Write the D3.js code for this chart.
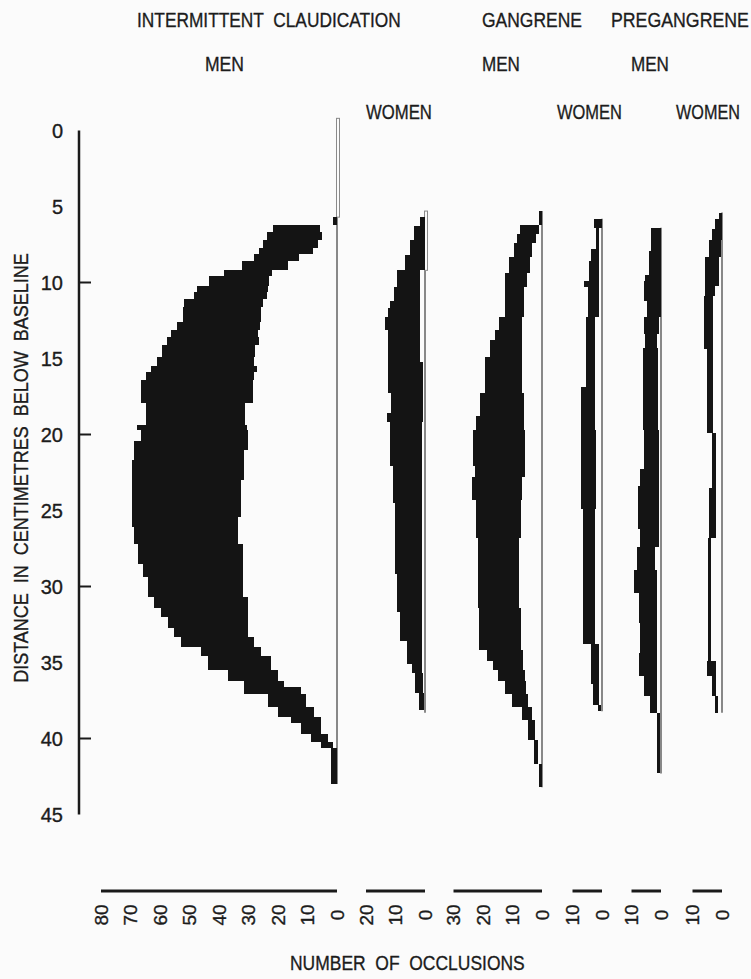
<!DOCTYPE html>
<html>
<head>
<meta charset="utf-8" />
<title>occlusions by distance below baseline</title>
<style>
* {
    padding: 0;
    margin: 0;
}
body {
    background: #fbfbfb;
}
#chart {
    width: 751px;
    height: 979px;
}
text {
    font-family: "Liberation Sans", Arial, sans-serif;
    fill: #1c1c1c;
    stroke: #1c1c1c;
    stroke-width: 0.35px;
}
</style>
</head>
<body>
<div id="chart"></div>
<script src="https://cdn.jsdelivr.net/npm/d3@7"></script>
<script>
// depth breakpoints (cm below baseline) and counts for each step
// outer = left edge of black band, inner = left edge of the white strip next to the zero line
var icMenDepth = [5.7, 6.2, 6.7, 7.2, 7.7, 8.1, 8.6, 9.2, 9.6, 10.2, 10.6, 11.1, 11.6, 12.6, 13.1, 13.6, 14.1, 14.9, 15.5, 15.9, 16.4, 17.9, 19.4, 19.7, 20.4, 21.05, 21.7, 23.0, 25.4, 26.1, 27.2, 28.5, 29.4, 30.7, 31.4, 32.0, 32.7, 33.3, 34.0, 34.6, 35.5, 36.2, 36.6, 37.1, 37.9, 38.6, 39.0, 39.7, 40.2, 40.6, 43.0]
var icMenOuter = [1.5, 21.7, 23.8, 25.1, 26.4, 28.1, 32.2, 38.3, 43.4, 47.5, 48.5, 51.9, 52.2, 54.2, 56.3, 57.6, 59.3, 61.0, 63.1, 64.7, 66.4, 64.7, 67.8, 66.4, 68.7, 68.7, 69.6, 69.6, 69.6, 68.7, 67.6, 65.9, 64.2, 61.9, 59.7, 57.4, 55.2, 52.9, 46.1, 43.8, 37.1, 31.4, 31.4, 23.5, 20.1, 15.6, 12.2, 8.8, 5.4, 2.0]
var icMenInner = [0, 5.8, 5.2, 6.4, 8.1, 12.9, 16.6, 22.0, 23.1, 23.4, 23.7, 25.1, 25.8, 26.1, 26.8, 26.4, 27.8, 28.1, 27.1, 28.1, 28.5, 31.2, 30.5, 30.3, 30.3, 31.4, 31.4, 32.5, 33.6, 33.6, 31.9, 31.9, 31.9, 30.3, 30.3, 30.3, 30.3, 28.0, 25.8, 22.4, 20.1, 17.9, 12.2, 10.5, 7.7, 5.4, 5.4, 3.2, 1.5, 0]

var icWomenDepth = [5.7, 6.25, 7.2, 8.2, 9.2, 10.3, 11.2, 11.7, 12.3, 13.1, 15.2, 17.3, 18.6, 19.2, 22.1, 24.5, 29.2, 31.7, 33.6, 35.1, 35.7, 37.0, 38.1]
var icWomenOuter = [1.7, 3.7, 5.1, 6.8, 9.4, 10.5, 11.9, 12.5, 13.6, 12.5, 12.5, 11.6, 12.8, 11.9, 11.0, 10.2, 9.4, 8.5, 6.2, 4.5, 3.4, 1.9]
var icWomenInner = [0, 0, 0, 0, 1.7, 1.7, 1.7, 1.7, 1.7, 1.7, 0.8, 0.8, 0.8, 1.1, 1.1, 1.1, 1.1, 1.1, 1.1, 1.1, 0.8, 0.5]

var gMenDepth = [5.3, 6.2, 6.8, 7.4, 8.3, 9.4, 10.3, 12.3, 13.1, 13.8, 14.9, 17.3, 18.8, 19.7, 22.1, 22.8, 24.3, 26.8, 31.4, 34.2, 34.9, 35.5, 36.2, 37.1, 37.9, 38.8, 40.1, 41.7, 43.2]
var gMenOuter = [1.0, 7.6, 8.4, 9.5, 11.3, 12.4, 12.6, 14.7, 15.8, 17.5, 19.2, 20.9, 22.5, 23.4, 22.8, 23.7, 22.4, 21.8, 21.5, 18.8, 16.5, 14.8, 12.6, 10.3, 6.9, 4.6, 2.8, 1.1]
var gMenInner = [0, 1.1, 2.2, 3.4, 3.9, 5.0, 6.2, 6.8, 6.8, 6.8, 6.8, 6.2, 6.2, 5.7, 5.7, 6.7, 7.2, 7.7, 7.0, 6.4, 6.4, 5.8, 5.3, 4.6, 3.5, 2.3, 1.2, 0]

var gWomenDepth = [5.8, 6.4, 7.8, 8.6, 9.9, 10.3, 12.3, 16.9, 19.7, 24.9, 33.8, 36.4, 37.8, 38.2]
var gWomenOuter = [2.6, 2.0, 3.7, 4.5, 6.0, 4.8, 5.4, 7.1, 7.1, 6.4, 3.8, 2.9, 1.4]
var gWomenInner = [0, 0.9, 0.9, 0.9, 0.9, 0.9, 2.3, 2.3, 2.0, 2.3, 1.1, 1.1, 0.4]

var pgMenDepth = [6.4, 7.9, 9.5, 9.9, 11.2, 12.3, 13.4, 14.3, 19.7, 22.3, 23.4, 26.2, 27.4, 28.9, 30.4, 32.4, 34.4, 35.9, 37.2, 38.3, 42.3]
var pgMenOuter = [3.4, 4.0, 5.4, 5.7, 4.9, 5.7, 5.4, 6.1, 5.7, 7.0, 7.9, 7.0, 8.2, 9.3, 7.6, 7.0, 7.6, 5.9, 3.6, 1.3]
var pgMenInner = [0, 0, 0, 0, 0, 0.6, 1.2, 1.1, 0.8, 0.8, 0.8, 0.8, 1.9, 1.4, 1.4, 1.4, 1.4, 1.4, 1.4, 0.2]

var pgWomenDepth = [5.4, 5.8, 6.5, 7.2, 8.3, 10.2, 10.9, 14.4, 19.9, 23.5, 26.8, 34.9, 35.9, 37.2, 38.3]
var pgWomenOuter = [0.9, 2.3, 3.4, 4.5, 5.7, 5.7, 6.0, 5.2, 3.5, 4.3, 4.8, 5.2, 3.4, 2.5]
var pgWomenInner = [0, 0, 0, 0.3, 0.9, 2.3, 2.9, 2.9, 2.2, 2.2, 3.6, 2.1, 2.1, 1.2]

// zero line extent (cm) and largest scale tick of each panel
var lineTop = [-0.8, 5.3, 5.3, 5.8, 6.4, 5.4]
var lineEnd = [43.0, 38.3, 43.2, 38.2, 42.3, 38.3]
var capEnd = [5.7, 9.2, null, null, null, null]
var scaleMax = [80, 20, 30, 10, 10, 10]

var depthTicks = d3.range(0, 50, 5)
var depthMajor = [10, 20, 30, 40]

var width = 751, height = 979
var baseX = [337, 425, 542, 602, 661, 722]
var pxPerUnit = 2.95

var svg = d3.select("#chart").append("svg")
    .attr("width", width)
    .attr("height", height)

main()

function main() {
    var panels = [
        {depth: icMenDepth, outer: icMenOuter, inner: icMenInner},
        {depth: icWomenDepth, outer: icWomenOuter, inner: icWomenInner},
        {depth: gMenDepth, outer: gMenOuter, inner: gMenInner},
        {depth: gWomenDepth, outer: gWomenOuter, inner: gWomenInner},
        {depth: pgMenDepth, outer: pgMenOuter, inner: pgMenInner},
        {depth: pgWomenDepth, outer: pgWomenOuter, inner: pgWomenInner}
    ]
    panels.forEach(function(p, i) {
        p.max = scaleMax[i]
        p.top = lineTop[i]
        p.end = lineEnd[i]
        p.cap = capEnd[i]
        p.x = d3.scaleLinear()
            .domain([0, p.max])
            .range([baseX[i], baseX[i] - p.max * pxPerUnit])
        p.steps = p.outer.map(function(v, j) {
            return {d0: p.depth[j], d1: p.depth[j + 1], outer: v, inner: p.inner[j]}
        })
    })

    var y = d3.scaleLinear().domain([0, 45]).range([130.5, 814.5])

    drawHeaders()
    drawDepthAxis(y)
    drawPanels(panels, y)
    drawCountScales(panels)
}

// lettering on the original is narrow: squeeze plain sans horizontally to the measured width
function squeeze(node, pre, w) {
    var k = w / node.getComputedTextLength()
    d3.select(node).attr("transform", pre + " scale(" + k + ",1)")
}

function drawHeaders() {
    var heads = [
        {t: "INTERMITTENT  CLAUDICATION", x: 137, y: 27, w: 264},
        {t: "GANGRENE", x: 482, y: 27, w: 100},
        {t: "PREGANGRENE", x: 611, y: 27, w: 138},
        {t: "MEN", x: 205, y: 71, w: 39},
        {t: "MEN", x: 482, y: 71, w: 38},
        {t: "MEN", x: 631, y: 71, w: 38},
        {t: "WOMEN", x: 366, y: 119, w: 66},
        {t: "WOMEN", x: 557, y: 119, w: 65},
        {t: "WOMEN", x: 676, y: 119, w: 64}
    ]
    svg.append("g").attr("class", "heads")
        .selectAll("text")
        .data(heads)
        .enter().append("text")
        .attr("font-size", 21)
        .style("white-space", "pre")
        .text(function(d) { return d.t })
        .each(function(d) { squeeze(this, "translate(" + d.x + "," + d.y + ")", d.w) })
}

function drawDepthAxis(y) {
    var g = svg.append("g").attr("class", "depth-axis")
    var ax = 79

    g.append("line")
        .attr("x1", ax).attr("x2", ax)
        .attr("y1", y(0)).attr("y2", y(45))
        .attr("stroke", "#1a1a1a")
        .attr("stroke-width", 2.5)

    g.selectAll(".tick")
        .data(depthMajor)
        .enter().append("line")
        .attr("class", "tick")
        .attr("x1", ax).attr("x2", ax + 12)
        .attr("y1", function(d) { return y(d) })
        .attr("y2", function(d) { return y(d) })
        .attr("stroke", "#1a1a1a")
        .attr("stroke-width", 2)

    g.selectAll(".lbl")
        .data(depthTicks)
        .enter().append("text")
        .attr("class", "lbl")
        .attr("x", 63)
        .attr("y", function(d) { return y(d) })
        .attr("dy", "0.35em")
        .attr("text-anchor", "end")
        .attr("font-size", 20)
        .text(function(d) { return d })

    var title = g.append("text")
        .attr("text-anchor", "middle")
        .attr("dy", "0.35em")
        .attr("font-size", 21)
        .style("white-space", "pre")
        .text("DISTANCE  IN  CENTIMETRES  BELOW  BASELINE")
    squeeze(title.node(), "translate(21,468) rotate(-90)", 430)
}

function drawPanels(panels, y) {
    var g = svg.append("g").attr("class", "panels")

    panels.forEach(function(p) {
        var pg = g.append("g")
        var x = p.x

        // zero line
        pg.append("line")
            .attr("x1", x(0)).attr("x2", x(0))
            .attr("y1", y(p.top)).attr("y2", y(p.end))
            .attr("stroke", "#4a4a4a")
            .attr("stroke-width", 1.3)

        if (p.cap != null) {
            pg.append("rect")
                .attr("x", x(0) - 0.5)
                .attr("y", y(p.top))
                .attr("width", 3)
                .attr("height", y(p.cap) - y(p.top))
                .attr("fill", "#fbfbfb")
                .attr("stroke", "#8a8a8a")
                .attr("stroke-width", 1)
        }

        pg.selectAll("rect.step")
            .data(p.steps)
            .enter().append("rect")
            .attr("class", "step")
            .attr("x", function(d) { return x(d.outer) })
            .attr("y", function(d) { return y(d.d0) })
            .attr("width", function(d) { return x(d.inner) - x(d.outer) })
            .attr("height", function(d) { return y(d.d1) - y(d.d0) })
            .attr("fill", "#141414")
            .attr("shape-rendering", "crispEdges")
    })
}

function drawCountScales(panels) {
    var g = svg.append("g").attr("class", "count-scales")
    var barY = 891

    panels.forEach(function(p) {
        var pg = g.append("g")
        pg.append("line")
            .attr("x1", p.x(p.max)).attr("x2", p.x(0))
            .attr("y1", barY).attr("y2", barY)
            .attr("stroke", "#1a1a1a")
            .attr("stroke-width", 3)

        pg.selectAll("text")
            .data(d3.range(p.max, -1, -10))
            .enter().append("text")
            .attr("transform", function(d) { return "translate(" + p.x(d) + ",915) rotate(-90)" })
            .attr("text-anchor", "middle")
            .attr("dy", "0.35em")
            .attr("font-size", 19)
            .text(function(d) { return d })
    })

    var title = g.append("text")
        .attr("font-size", 21)
        .style("white-space", "pre")
        .text("NUMBER  OF  OCCLUSIONS")
    squeeze(title.node(), "translate(290,970)", 235)
}
</script>
</body>
</html>
